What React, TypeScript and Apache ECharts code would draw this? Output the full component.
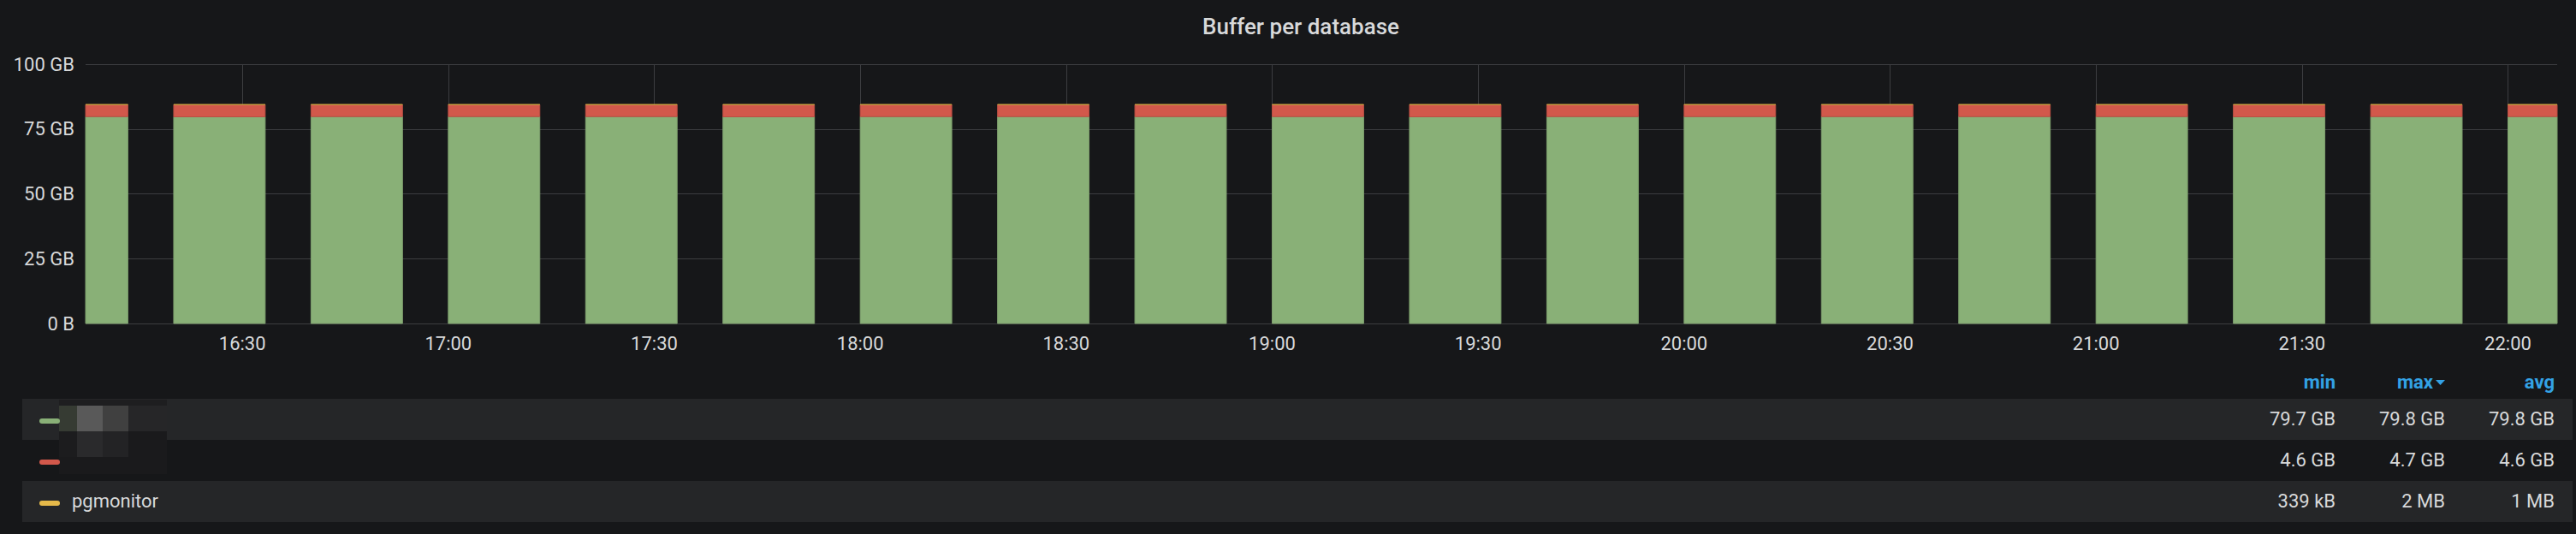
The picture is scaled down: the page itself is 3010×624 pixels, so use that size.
import React, { useEffect, useRef } from 'react';
import * as echarts from 'echarts';

// ---- data ----
const barTimes = ['16:00', '16:20', '16:40', '17:00', '17:20', '17:40', '18:00', '18:20', '18:40', '19:00', '19:20', '19:40', '20:00', '20:20', '20:40', '21:00', '21:20', '21:40', '22:00'];
// GB
const bufferDb1 = [79.8, 79.7, 79.8, 79.8, 79.8, 79.7, 79.8, 79.8, 79.8, 79.8, 79.7, 79.8, 79.8, 79.8, 79.8, 79.8, 79.7, 79.8, 79.8];
const bufferDb2 = [4.6, 4.7, 4.6, 4.6, 4.6, 4.7, 4.6, 4.6, 4.6, 4.6, 4.7, 4.6, 4.6, 4.6, 4.6, 4.6, 4.7, 4.6, 4.6];
const bufferPgmonitor = [0.001, 0.000339, 0.002, 0.001, 0.001, 0.0008, 0.001, 0.0015, 0.001, 0.0009, 0.001, 0.0012, 0.001, 0.0007, 0.001, 0.0011, 0.001, 0.0013, 0.001];
const tickLabels = ['16:30', '17:00', '17:30', '18:00', '18:30', '19:00', '19:30', '20:00', '20:30', '21:00', '21:30', '22:00'];
const rangeStart = '16:07:10';
const rangeEnd = '22:07:10';
const barSpanMinutes = 13.33;

const legendNames = ['', '', 'pgmonitor'];
const legendMin = ['79.7 GB', '4.6 GB', '339 kB'];
const legendMax = ['79.8 GB', '4.7 GB', '2 MB'];
const legendAvg = ['79.8 GB', '4.6 GB', '1 MB'];
const legendHeaders = ['min', 'max', 'avg'];
const seriesNames = ['database 1', 'database 2', 'pgmonitor'];
const seriesColors = ['#89B077', '#D2584B', '#E5B94A'];
const seriesStrokes = ['#7D9F6D', '#B94E43', '#C9A240'];

const TITLE = 'Buffer per database';

// ---- styling ----
const BG = '#161719';
const TEXT = '#D8D9DA';
const GRID = '#3C3D40';
const BLUE = '#33A2E5';
const FONT = 'Roboto, "Noto Sans", sans-serif';

const toTime = (s: string) => {
  const [h, m, sec] = s.split(':').map(Number);
  return new Date(2020, 0, 15, h, m, sec || 0).getTime();
};

export default function App() {
  const ref = useRef<HTMLDivElement>(null);

  useEffect(() => {
    document.body.style.margin = '0';
    document.body.style.background = BG;
    if (!ref.current) return;
    const chart = echarts.init(ref.current, undefined, { renderer: 'svg' });

    const times = barTimes.map(toTime);
    const span = barSpanMinutes * 60000;
    const stacks = [bufferDb1, bufferDb2, bufferPgmonitor];
    const base = times.map(() => 0);
    const seriesData = stacks.map((vals) =>
      vals.map((v, i) => {
        const lo = base[i];
        base[i] = lo + v;
        return [times[i], lo, lo + v];
      })
    );

    const series = seriesData.map((data, si) => ({
      type: 'custom',
      name: seriesNames[si],
      data,
      encode: { x: 0, y: 2 },
      renderItem: (params: any, api: any) => {
        const t = api.value(0);
        const lo = api.value(1);
        const hi = api.value(2);
        const p0 = api.coord([t, lo]);
        const p1 = api.coord([t + span, hi]);
        const cs = params.coordSys;
        const x0 = Math.max(p0[0], cs.x);
        const x1 = Math.min(p1[0], cs.x + cs.width);
        if (x1 <= x0) return null;
        return {
          type: 'rect',
          shape: { x: x0, y: p1[1], width: x1 - x0, height: p0[1] - p1[1] },
          style: { fill: seriesColors[si], stroke: seriesStrokes[si], lineWidth: 1 },
        };
      },
    }));

    // legend table as graphics
    const rowTop = [466, 514, 562];
    const rowH = 48;
    const colRight = [2729, 2843, 2985];
    const g: any[] = [];
    rowTop.forEach((top, i) => {
      if (i % 2 === 0) {
        g.push({ type: 'rect', shape: { x: 26, y: top, width: 2980, height: rowH }, style: { fill: '#252628' }, z: 1 });
      }
    });
    // redaction mosaic over hidden names
    const mosaic: [number, number, number, number, string][] = [
      [69, 467, 126, 7, '#1E1E20'],
      [69, 474, 21, 30, '#363B33'],
      [90, 474, 30, 30, '#595959'],
      [120, 474, 30, 30, '#404040'],
      [150, 474, 45, 30, '#262628'],
      [69, 504, 21, 30, '#1C1C1E'],
      [90, 504, 30, 30, '#2A2A2C'],
      [120, 504, 30, 30, '#232325'],
      [150, 504, 45, 30, '#1A1A1C'],
      [69, 534, 126, 20, '#1A1A1C'],
    ];
    mosaic.forEach(([x, y, w, h, c]) => {
      g.push({ type: 'rect', shape: { x, y, width: w, height: h }, style: { fill: c }, z: 2 });
    });
    rowTop.forEach((top, i) => {
      g.push({ type: 'rect', shape: { x: 46, y: top + 23, width: 24, height: 6, r: 3 }, style: { fill: seriesColors[i] }, z: 3 });
      const cy = top + 23;
      const txt = (text: string, x: number, align: string) => ({
        type: 'text',
        z: 3,
        style: {
          text, x, y: cy, fill: TEXT, font: `22px ${FONT}`,
          textAlign: align, textVerticalAlign: 'middle', align, verticalAlign: 'middle',
        },
      });
      if (legendNames[i]) g.push(txt(legendNames[i], 84, 'left'));
      g.push(txt(legendMin[i], colRight[0], 'right'));
      g.push(txt(legendMax[i], colRight[1] + 14, 'right'));
      g.push(txt(legendAvg[i], colRight[2], 'right'));
    });
    legendHeaders.forEach((h, i) => {
      g.push({
        type: 'text', z: 3,
        style: {
          text: h, x: colRight[i], y: 446, fill: BLUE, font: `bold 22px ${FONT}`,
          textAlign: 'right', textVerticalAlign: 'middle', align: 'right', verticalAlign: 'middle',
        },
      });
    });
    g.push({ type: 'polygon', z: 3, shape: { points: [[2846, 444], [2857, 444], [2851.5, 450]] }, style: { fill: BLUE } });

    const tickValues = tickLabels.map(toTime);

    chart.setOption({
      animation: false,
      backgroundColor: BG,
      textStyle: { fontFamily: FONT },
      title: {
        text: TITLE,
        left: 1515,
        top: 13,
        textAlign: 'center',
        textStyle: { color: TEXT, fontSize: 26, fontWeight: 500, fontFamily: FONT },
      },
      grid: { left: 100, right: 22, top: 75, bottom: 246, containLabel: false },
      xAxis: {
        type: 'value',
        min: toTime(rangeStart),
        max: toTime(rangeEnd),
        axisLine: { show: false },
        axisTick: { show: false, customValues: tickValues },
        axisLabel: {
          customValues: tickValues,
          color: TEXT,
          fontSize: 22,
          fontFamily: FONT,
          margin: 12,
          formatter: (v: number) => {
            const d = new Date(v);
            return String(d.getHours()).padStart(2, '0') + ':' + String(d.getMinutes()).padStart(2, '0');
          },
        },
        splitLine: { show: true, lineStyle: { color: GRID, width: 1 } },
      },
      yAxis: {
        type: 'value',
        min: 0,
        max: 100,
        interval: 25,
        axisLine: { show: false },
        axisTick: { show: false },
        axisLabel: {
          color: TEXT,
          fontSize: 22,
          fontFamily: FONT,
          margin: 13,
          formatter: (v: number) => (v === 0 ? '0 B' : `${v} GB`),
        },
        splitLine: { show: true, lineStyle: { color: GRID, width: 1 } },
      },
      series,
      graphic: { elements: g },
    });

    return () => chart.dispose();
  }, []);

  return (
    <div
      ref={ref}
      style={{ position: 'absolute', left: 0, top: 0, width: 3010, height: 624, background: BG }}
    />
  );
}
